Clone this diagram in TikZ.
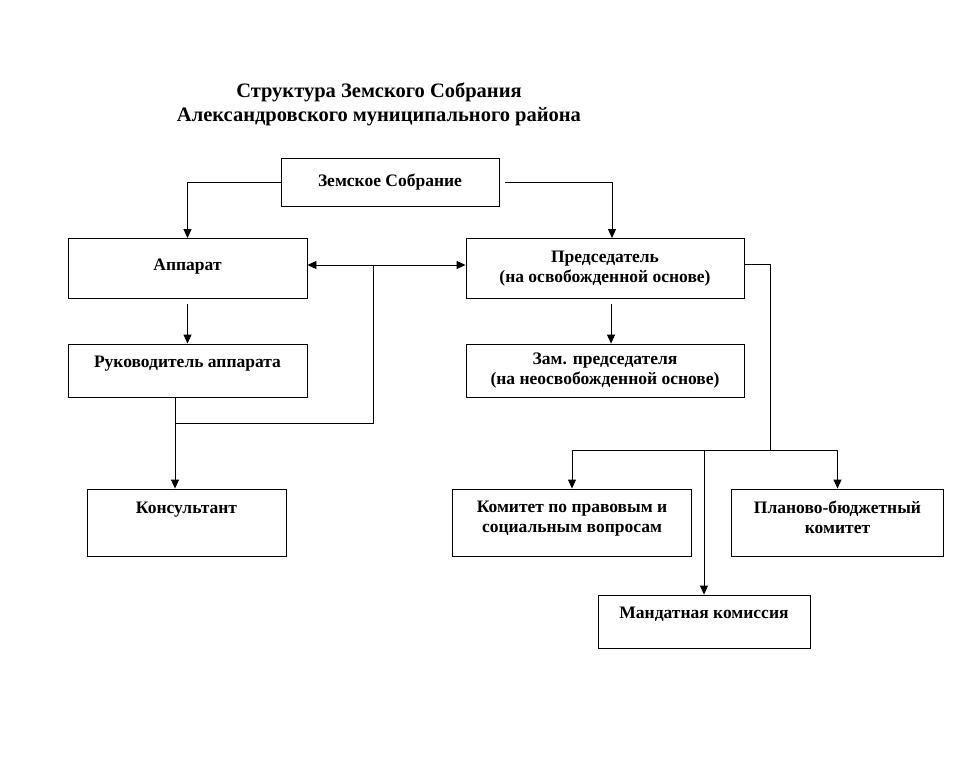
\documentclass[tikz,border=0pt]{standalone}
\usepackage{fontspec}
\setmainfont{Liberation Serif}
\usetikzlibrary{arrows.meta}

\begin{document}
\begin{tikzpicture}[x=1pt,y=-1pt]
      \useasboundingbox[fill=white] (0,0) rectangle (979,763);
      \coordinate (origo) at (0,0);

      \tikzstyle{box} = [
        rectangle,
        draw=black,
        line width=0.9pt,
        align=center,
        inner sep=0pt,
        font=\fontsize{17.5}{19.5}\selectfont\bfseries
      ]
      \tikzstyle{title} = [
        draw=none,
        align=center,
        font=\fontsize{20.5}{24}\selectfont\bfseries
      ]
      \tikzstyle{line} = [line width=0.9pt, draw=black]
      \tikzstyle{arrow} = [line, -{Triangle[length=9pt,width=8pt]}]

      % heading
      \node[title] (heading) at ([xshift=379pt,yshift=-104pt] origo)
        {Структура Земского Собрания\\Александровского муниципального района};

      % top
      \node[box,minimum width=218pt,minimum height=48pt] (zs) at ([xshift=390pt,yshift=-182pt] origo) {Земское Собрание};

      % left branch
      \node[box,minimum width=239pt,minimum height=60pt,text depth=7pt] (app) at ([xshift=187.5pt,yshift=-268.5pt] origo) {Аппарат};
      \node[box,minimum width=239pt,minimum height=53pt,text depth=18pt] (ruk) at ([xshift=187.5pt,yshift=-370.5pt] origo) {Руководитель аппарата};
      \node[box,minimum width=199pt,minimum height=67pt,text depth=29pt] (kons) at ([xshift=186.5pt,yshift=-522.5pt] origo) {Консультант};

      % right branch
      \node[box,minimum width=278pt,minimum height=60pt] (pred) at ([xshift=605pt,yshift=-268.5pt] origo) {Председатель\\(на освобожденной основе)};
      \node[box,minimum width=278pt,minimum height=53pt] (zam) at ([xshift=605pt,yshift=-370.5pt] origo) {Зам. председателя\\(на неосвобожденной основе)};

      % committees
      \node[box,minimum width=239pt,minimum height=67pt,text depth=11pt] (kom) at ([xshift=572pt,yshift=-522.5pt] origo) {Комитет по правовым и\\социальным вопросам};
      \node[box,minimum width=212pt,minimum height=67pt,text depth=11pt] (plan) at ([xshift=837.5pt,yshift=-522.5pt] origo) {Планово-бюджетный\\комитет};
      \node[box,minimum width=212pt,minimum height=53pt,text depth=18pt] (mand) at ([xshift=704pt,yshift=-621.5pt] origo) {Мандатная комиссия};

      % junctions
      \coordinate (junA) at ([xshift=373pt,yshift=-265pt] origo);
      \coordinate (junB) at ([xshift=175pt,yshift=-423pt] origo);
      \coordinate (bus) at ([xshift=770pt,yshift=-450pt] origo);

      % from the assembly
      \draw[arrow] (zs.west) -| (app.north);
      \draw[arrow] ([xshift=6pt]zs.east) -| ([xshift=7pt]pred.north);

      % between apparatus and chairman
      \draw[line,{Triangle[length=9pt,width=8pt]}-{Triangle[length=9pt,width=8pt]}] ([yshift=3.5pt]app.east) -- ([yshift=3.5pt]pred.west);
      \draw[line] (junA) |- (junB);

      % down the left
      \draw[arrow] ([yshift=-5pt]app.south) -- (ruk.north);
      \draw[arrow] (ruk.south -| junB) -- (kons.north -| junB);

      % down the right
      \draw[arrow] ([xshift=6pt,yshift=-5pt]pred.south) -- ([xshift=6pt]zam.north);
      \draw[line] ([yshift=4pt]pred.east) -| (bus);
      \draw[arrow] (bus) -| (kom.north);
      \draw[arrow] (bus) -| (plan.north);
      \draw[arrow] (bus -| mand.north) -- (mand.north);
\end{tikzpicture}
\end{document}
